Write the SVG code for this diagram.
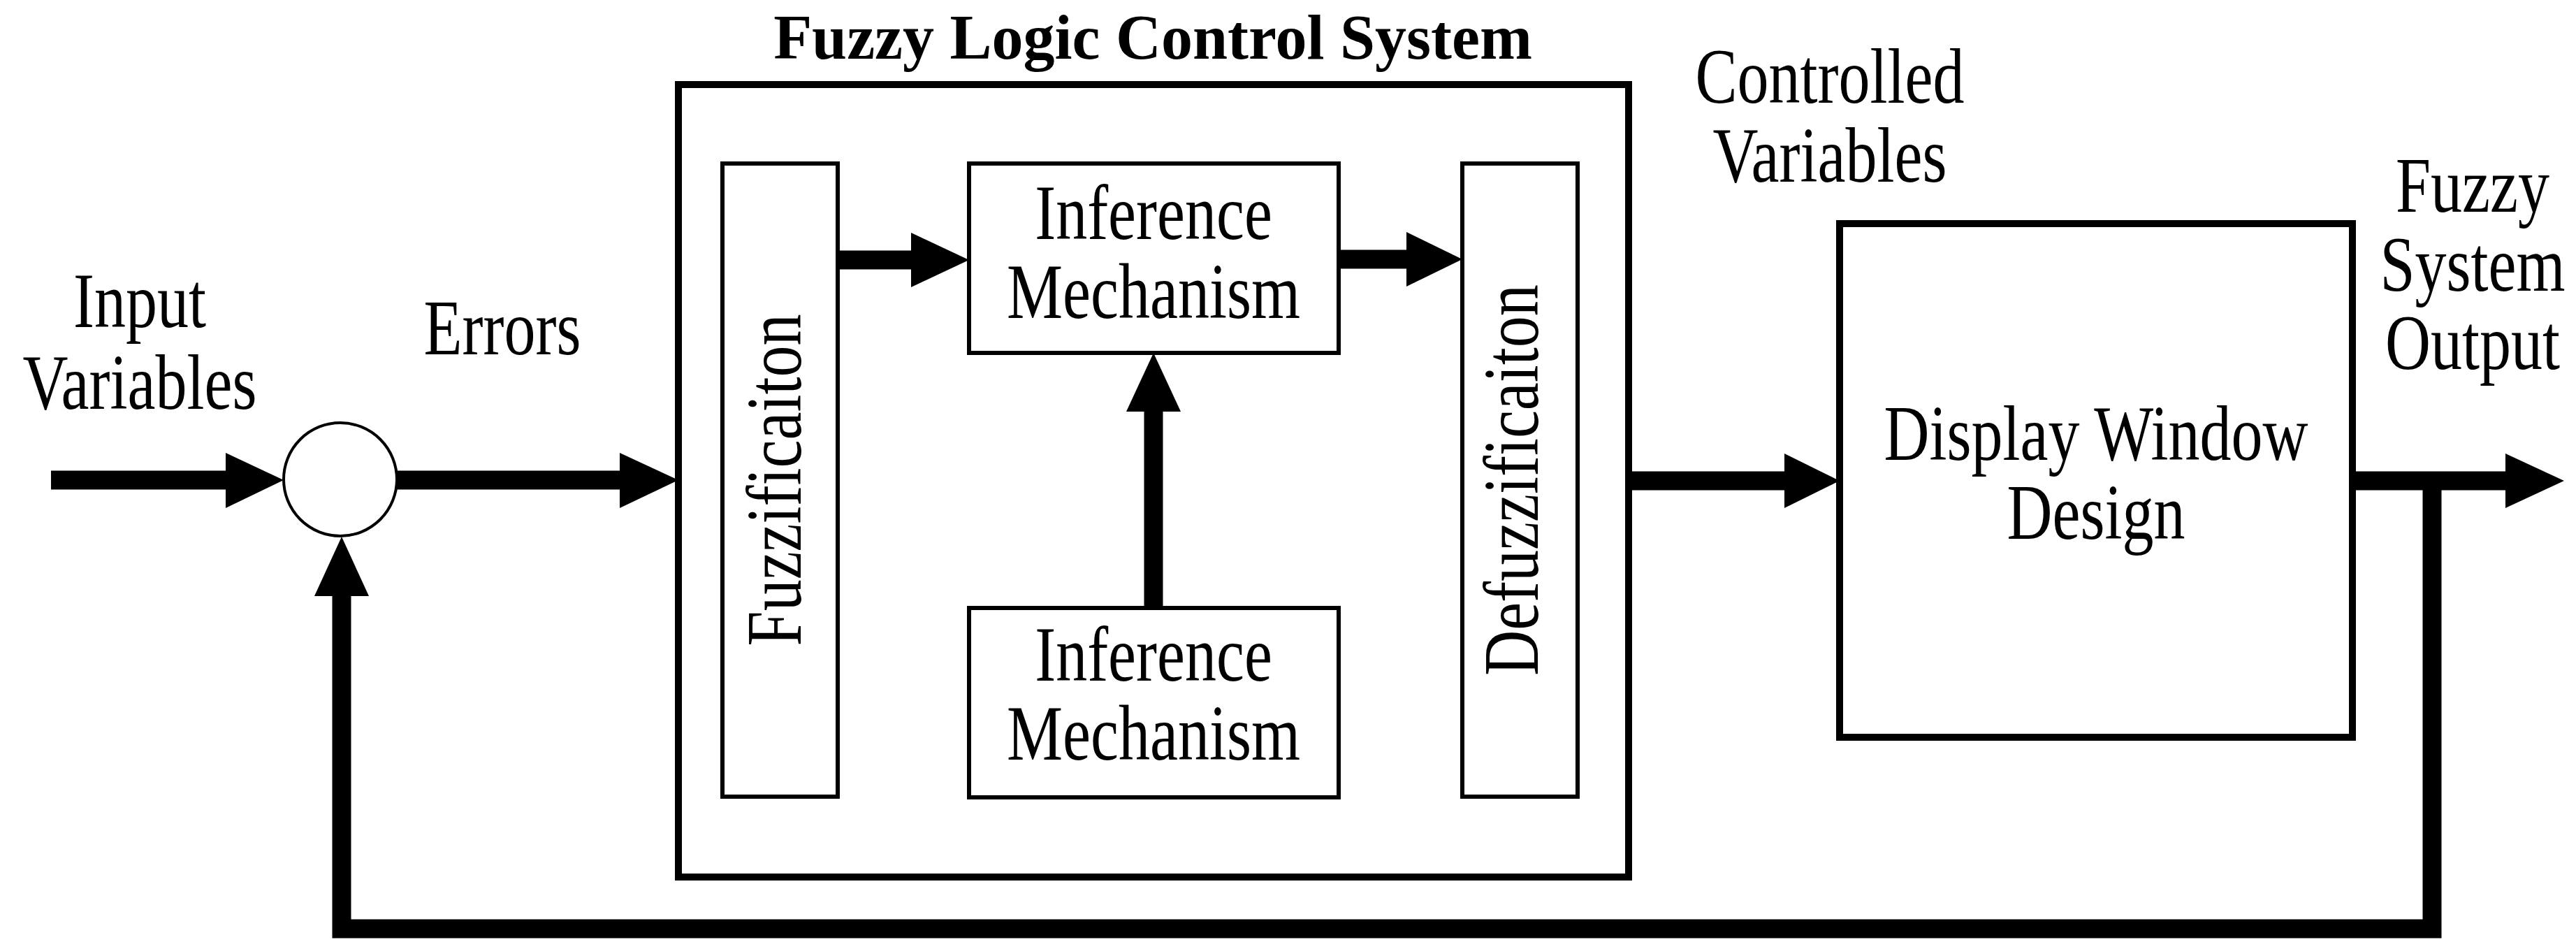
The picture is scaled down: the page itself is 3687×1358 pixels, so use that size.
<svg xmlns="http://www.w3.org/2000/svg" width="3687" height="1358" viewBox="0 0 3687 1358">
<style>
text{font-family:"Liberation Serif","Times New Roman",serif;font-size:90px;fill:#000;text-anchor:middle}
.title{font-weight:bold;font-size:90px}
.box{fill:#fff;stroke:#000;stroke-width:6}
.big{fill:#fff;stroke:#000;stroke-width:10}
.ln{fill:none;stroke:#000;stroke-width:27}
.ah{fill:#000}
</style>
<rect width="3687" height="1358" fill="#fff"/>
<g id="title"><text class="title" x="1650" y="84">Fuzzy Logic Control System</text></g>
<g id="fls"><rect class="big" x="971" y="121" width="1360" height="1134"/></g>
<g id="fuzz"><rect class="box" x="1034" y="234" width="165" height="906"/><text transform="translate(1146,687) rotate(-90) scale(1,1.25)">Fuzzificaiton</text></g>
<g id="inf1"><rect class="box" x="1387" y="234" width="529" height="271"/><text transform="translate(1651,342) scale(1,1.25)">Inference</text><text transform="translate(1651,455) scale(1,1.25)">Mechanism</text></g>
<g id="inf2"><rect class="box" x="1387" y="870" width="529" height="271"/><text transform="translate(1651,974) scale(1,1.25)">Inference</text><text transform="translate(1651,1087) scale(1,1.25)">Mechanism</text></g>
<g id="defuzz"><rect class="box" x="2093" y="234" width="165" height="906"/><text transform="translate(2201,687) rotate(-90) scale(1,1.25)">Defuzzificaiton</text></g>
<g id="display"><rect class="big" x="2633" y="320" width="734" height="735"/><text transform="translate(3000,658) scale(1,1.25)">Display Window</text><text transform="translate(3000,771) scale(1,1.25)">Design</text></g>
<g id="sum"><circle cx="487" cy="686" r="81" fill="#fff" stroke="#000" stroke-width="4"/></g>
<g id="labels">
<text transform="translate(200,468) scale(1,1.25)">Input</text><text transform="translate(200,585) scale(1,1.25)">Variables</text>
<text transform="translate(719,507) scale(1,1.25)">Errors</text>
<text transform="translate(2619,147) scale(1,1.25)">Controlled</text><text transform="translate(2619,260) scale(1,1.25)">Variables</text>
<text transform="translate(3539,303) scale(1,1.25)">Fuzzy</text><text transform="translate(3539,416) scale(1,1.25)">System</text><text transform="translate(3539,528) scale(1,1.25)">Output</text>
</g>
<g id="connectors">
<line class="ln" x1="73" y1="687" x2="330" y2="687"/><polygon class="ah" points="323,648 406,687 323,727"/>
<line class="ln" x1="568" y1="687" x2="895" y2="687"/><polygon class="ah" points="887,648 971,687 887,727"/>
<line class="ln" x1="1199" y1="372" x2="1310" y2="372"/><polygon class="ah" points="1304,333 1387,372 1304,411"/>
<line class="ln" x1="1916" y1="371" x2="2020" y2="371"/><polygon class="ah" points="2013,332 2093,371 2013,410"/>
<line class="ln" x1="1651" y1="870" x2="1651" y2="580"/><polygon class="ah" points="1612,589 1651,505 1690,589"/>
<line class="ln" x1="2331" y1="688" x2="2560" y2="688"/><polygon class="ah" points="2554,649 2633,688 2554,727"/>
<line class="ln" x1="3367" y1="688" x2="3595" y2="688"/><polygon class="ah" points="3586,649 3670,688 3586,727"/>
<polyline class="ln" points="3481,688 3481,1329 489,1329 489,845"/><polygon class="ah" points="450,853 489,768 528,853"/>
</g>
</svg>
